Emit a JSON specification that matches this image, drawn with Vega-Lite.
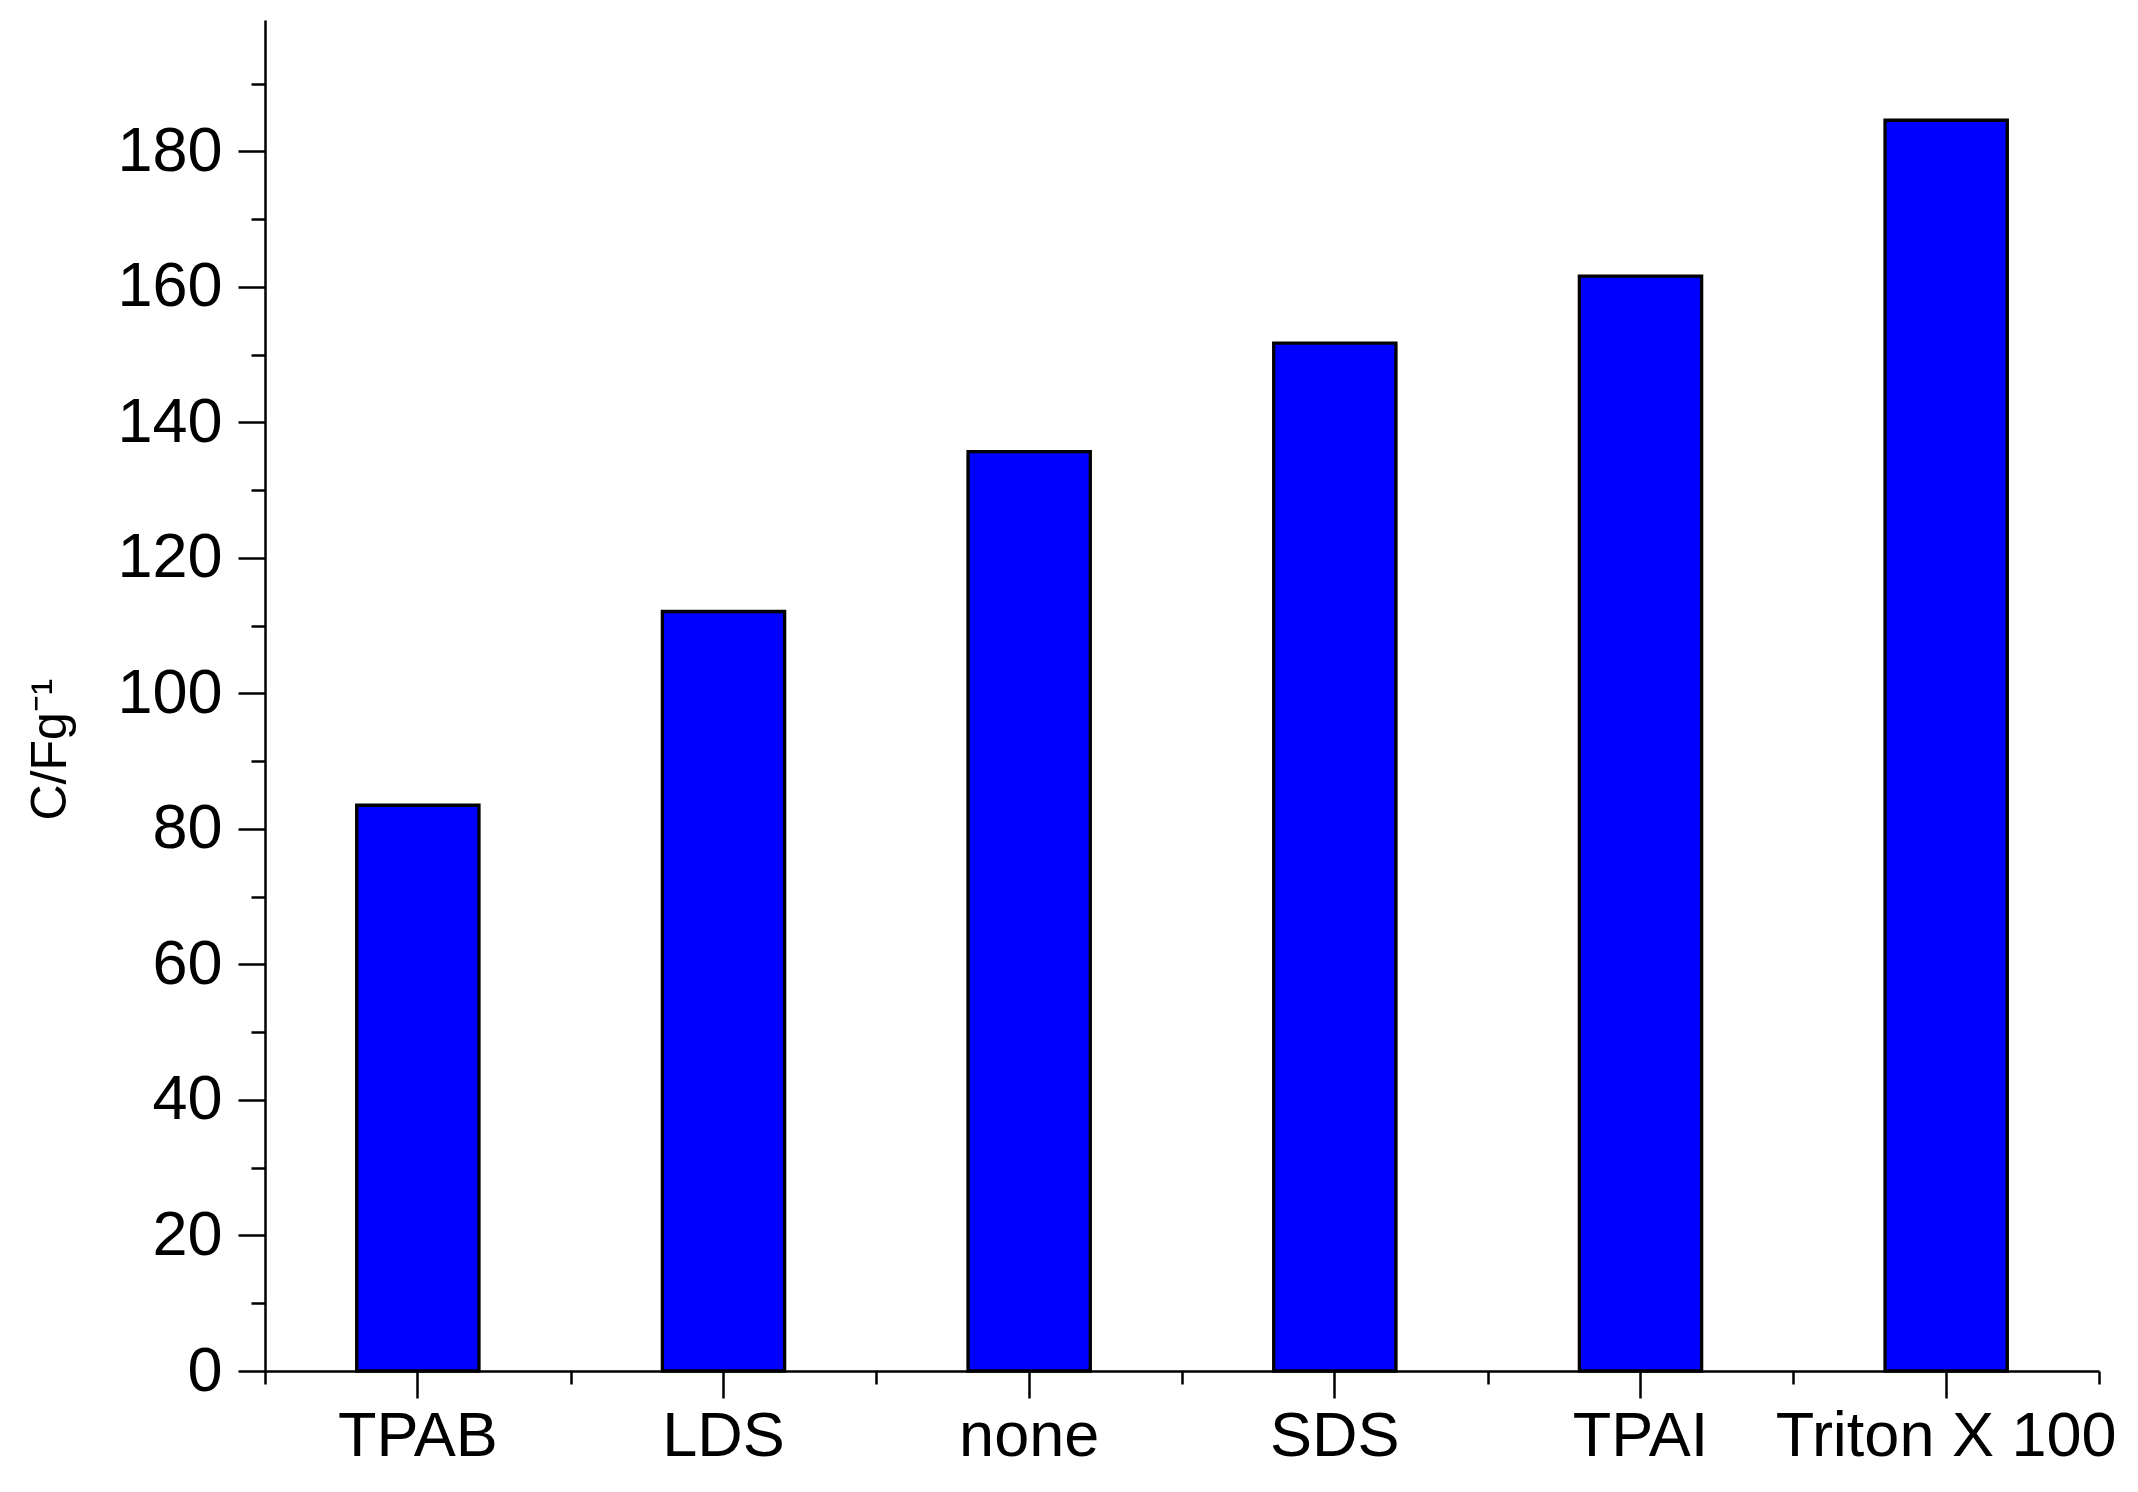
{
  "$schema": "https://vega.github.io/schema/vega-lite/v6.json",
  "autosize": {"type": "none"},
  "padding": {"left": 265, "top": 20, "right": 39, "bottom": 121},
  "width": 1834,
  "height": 1351,
  "background": "white",
  "config": {
    "view": {"stroke": null},
    "axis": {
      "labelFont": "Liberation Sans, Arial",
      "labelFontSize": 63,
      "labelColor": "black",
      "labelLimit": 0,
      "domainColor": "black",
      "tickColor": "black",
      "domainWidth": 2.5,
      "tickWidth": 2.5,
      "grid": false,
      "titleFont": "Liberation Sans, Arial",
      "titleColor": "black",
      "titleFontWeight": "normal"
    }
  },
  "data": {
    "values": [
      {"surfactant": "TPAB", "C": 83.5},
      {"surfactant": "LDS", "C": 112.1},
      {"surfactant": "none", "C": 135.7},
      {"surfactant": "SDS", "C": 151.7},
      {"surfactant": "TPAI", "C": 161.6},
      {"surfactant": "Triton X 100", "C": 184.6}
    ]
  },
  "layer": [
    {
      "mark": {"type": "bar", "fill": "#0000ff", "stroke": "black", "strokeWidth": 3.3},
      "encoding": {
        "x": {
          "field": "surfactant",
          "type": "nominal",
          "sort": null,
          "scale": {"paddingInner": 0.6, "paddingOuter": 0.3},
          "axis": {
            "orient": "bottom",
            "title": null,
            "labelAngle": 0,
            "tickSize": 27,
            "labelPadding": 7,
            "domain": true
          }
        },
        "y": {
          "field": "C",
          "type": "quantitative",
          "scale": {"domain": [0, 199.4], "nice": false, "zero": true},
          "axis": {
            "orient": "left",
            "title": "C/Fg⁻¹",
            "titleFontSize": 50,
            "titleAngle": -90,
            "titleX": -215,
            "titleY": 729,
            "titleAlign": "center",
            "titleBaseline": "middle",
            "values": [0, 10, 20, 30, 40, 50, 60, 70, 80, 90, 100, 110, 120, 130, 140, 150, 160, 170, 180, 190],
            "labelExpr": "datum.value % 20 === 0 ? datum.label : ''",
            "tickSize": {"condition": {"test": "datum.value % 20 === 0", "value": 27}, "value": 14},
            "labelPadding": 16,
            "domain": true
          }
        }
      }
    },
    {
      "mark": {"type": "bar", "opacity": 0},
      "encoding": {
        "x": {
          "field": "surfactant",
          "type": "nominal",
          "sort": null,
          "scale": {"paddingInner": 0, "paddingOuter": 0},
          "axis": {
            "orient": "bottom",
            "title": null,
            "labels": false,
            "domain": false,
            "tickBand": "extent",
            "tickSize": 13
          }
        },
        "y": {
          "field": "C",
          "type": "quantitative",
          "scale": {"domain": [0, 199.4], "nice": false, "zero": true},
          "axis": null
        }
      }
    }
  ],
  "resolve": {"scale": {"x": "independent"}, "axis": {"x": "independent", "y": "independent"}}
}
